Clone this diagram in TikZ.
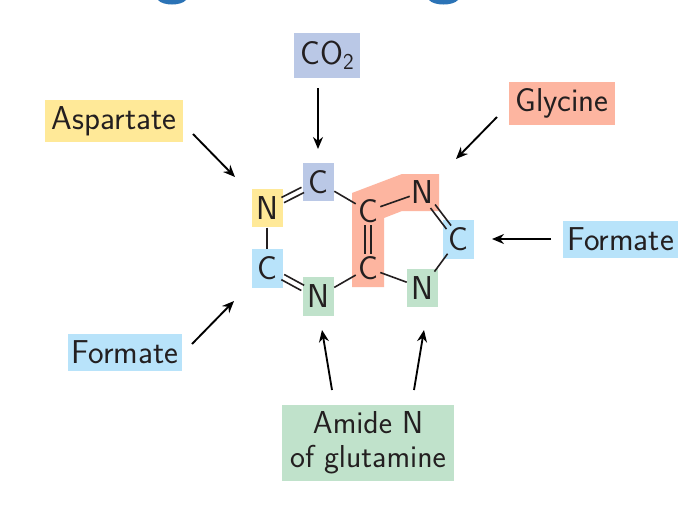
\documentclass[tikz,border=0pt]{standalone}
\usepackage{fontspec}
\usetikzlibrary{arrows.meta}
\definecolor{inkblack}{HTML}{231F20}
\definecolor{co2blue}{HTML}{BAC8E6}
\definecolor{aspyellow}{HTML}{FFE998}
\definecolor{formblue}{HTML}{B8E3FA}
\definecolor{amidegreen}{HTML}{C0E2CB}
\definecolor{glyorange}{HTML}{FDB5A0}
\definecolor{capblue}{HTML}{2B73B6}
\tikzset{
  txt/.style={text=inkblack,inner sep=0pt,font=\sffamily\fontsize{24.8}{25.5}\selectfont},
  atom/.style={txt,minimum width=23.25pt,minimum height=29pt},
  bare/.style={txt,minimum width=18pt,minimum height=21pt},
  bond/.style={draw=inkblack,line width=1.2pt},
  feed/.style={draw=black,line width=1.4pt,-{Stealth[length=9pt,width=7.5pt]}}
}
\begin{document}
\begin{tikzpicture}[x=0.75pt,y=0.75pt]
\clip (0,0) rectangle (687,-522);
\fill [white] (0,0) rectangle (687,-522);
\fill [capblue] (158,0) .. controls (163,-6) and (181,-6) .. (186,0) -- cycle;
\fill [capblue] (429,0) .. controls (434,-6) and (453,-6) .. (458,0) -- cycle;
\fill [glyorange] (352,-193) -- (402,-174) -- (439,-174) -- (439,-211) -- (402,-211) -- (384,-218) -- (384,-287) -- (352,-287) -- cycle;
\node [atom,fill=co2blue] (c4) at (318.5,-182) {C};
\node [atom,fill=aspyellow] (n1) at (267,-208) {N};
\node [atom,fill=formblue] (c2) at (267,-268.5) {C};
\node [atom,fill=amidegreen] (n3) at (318.5,-296.5) {N};
\node [atom,fill=formblue] (c8) at (458,-239.5) {C};
\node [atom,fill=amidegreen] (n9) at (422.5,-288) {N};
\node [bare] (c5) at (368,-211) {C};
\node [bare] (c6) at (368,-268) {C};
\node [bare] (n7) at (422,-192) {N};
\node [txt,fill=co2blue,minimum width=49.5pt,minimum height=33.5pt] (co2) at (327,-55.5) {CO{\raisebox{-4pt}{\fontsize{17}{17}\selectfont 2}}};
\node [txt,fill=aspyellow,minimum width=103.5pt,minimum height=31.5pt] (asp) at (114,-121) {Aspartate};
\node [txt,fill=glyorange,minimum width=79.5pt,minimum height=32pt] (gly) at (562,-103.5) {Glycine};
\node [txt,fill=formblue,minimum width=86pt,minimum height=28pt] (formr) at (620.5,-239.5) {Formate};
\node [txt,fill=formblue,minimum width=85.5pt,minimum height=28pt] (forml) at (125,-352.5) {Formate};
\node [txt,fill=amidegreen,minimum width=129pt,minimum height=57pt,align=center,font=\sffamily\fontsize{23.8}{25.5}\selectfont] (amide) at (368,-443) {Amide N\\of glutamine};
\coordinate (co2a) at (318,-88);
\coordinate (co2b) at (318,-149);
\coordinate (aspa) at (193,-134);
\coordinate (aspb) at (235,-177);
\coordinate (glya) at (497,-117);
\coordinate (glyb) at (456,-159);
\coordinate (forma) at (551,-239);
\coordinate (formb) at (492,-239);
\coordinate (formc) at (192,-344);
\coordinate (formd) at (234,-301);
\coordinate (amia) at (332,-390);
\coordinate (amib) at (322,-330);
\coordinate (amic) at (414,-390);
\coordinate (amid) at (424,-330);
\draw [feed] (co2a) -- (co2b);
\draw [feed] (aspa) -- (aspb);
\draw [feed] (glya) -- (glyb);
\draw [feed] (forma) -- (formb);
\draw [feed] (formc) -- (formd);
\draw [feed] (amia) -- (amib);
\draw [feed] (amic) -- (amid);
\draw [bond] (n1) -- (c2);
\draw [bond] (n3) -- (c6);
\draw [bond] (c4) -- (c5);
\draw [bond] (c5) -- (n7);
\draw [bond] (c6) -- (n9);
\draw [bond,shorten <=-5pt,shorten >=-3pt] (c8) -- (n9);
\draw [bond,transform canvas={shift={(-1.3,2.6)}}] (n1) -- (c4);
\draw [bond,transform canvas={shift={(1.3,-2.6)}}] (n1) -- (c4);
\draw [bond,transform canvas={shift={(1.4,2.6)}}] (c2) -- (n3);
\draw [bond,transform canvas={shift={(-1.4,-2.6)}}] (c2) -- (n3);
\draw [bond,transform canvas={shift={(-3,0)}}] (c5) -- (c6);
\draw [bond,transform canvas={shift={(3,0)}}] (c5) -- (c6);
\draw [bond,shorten >=-7pt,transform canvas={shift={(-2.3,-1.75)}}] (n7) -- (c8);
\draw [bond,shorten >=-7pt,transform canvas={shift={(2.3,1.75)}}] (n7) -- (c8);
\end{tikzpicture}
\end{document}
